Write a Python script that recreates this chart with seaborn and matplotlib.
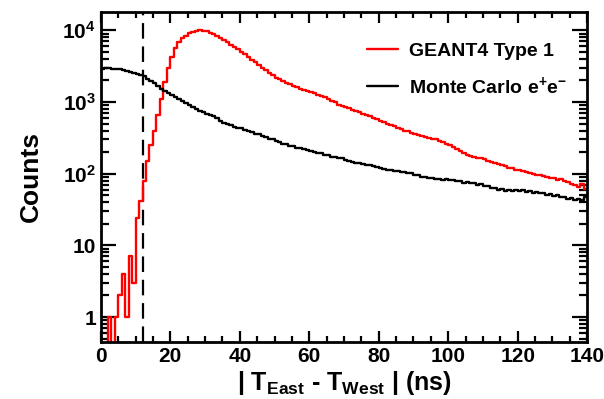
import numpy as np
import pandas as pd
import seaborn as sns
import matplotlib.pyplot as plt
from matplotlib.ticker import MultipleLocator, LogLocator, FixedLocator, FixedFormatter, NullFormatter

### 1 ns bins from 0 to 140 ns
bin_lo = list(range(0, 140))

### GEANT4 Type 1 (red)
geant4 = [
    0, 0, 1, 0, 1, 2, 4, 1, 7, 3,
    24, 41, 78, 150, 255, 400, 660, 1100, 1900, 3000,
    4300, 5600, 6800, 7700, 8450, 9050, 9500, 9800, 10000, 9900,
    9700, 9300, 8850, 8300, 7800, 7350, 6800, 6300, 5900, 5450,
    5050, 4620, 4250, 3900, 3560, 3250, 3010, 2760, 2540, 2360,
    2190, 2060, 1940, 1850, 1760, 1670, 1610, 1540, 1490, 1420,
    1370, 1320, 1270, 1230, 1170, 1110, 1040, 985, 915, 870,
    845, 815, 785, 740, 715, 680, 655, 630, 598, 575,
    550, 528, 500, 482, 462, 440, 424, 398, 388, 368,
    358, 343, 338, 322, 318, 308, 302, 284, 278, 262,
    252, 238, 222, 206, 195, 182, 176, 170, 168, 164,
    160, 150, 147, 139, 137, 132, 129, 121, 119, 114,
    113, 110, 104, 103, 99, 97, 95, 92, 91, 86,
    86, 82, 83, 78, 76, 71, 69, 65, 72, 62,
]

### Monte Carlo e+e- (black)
monte_carlo = [
    2900, 2950, 2930, 2920, 2880, 2860, 2800, 2720, 2650, 2570,
    2480, 2380, 2270, 2120, 1980, 1830, 1680, 1540, 1420, 1320,
    1240, 1170, 1100, 1030, 970, 915, 860, 805, 760, 722,
    688, 655, 628, 595, 548, 515, 492, 472, 452, 440,
    428, 410, 394, 382, 363, 356, 338, 326, 309, 300,
    284, 273, 261, 256, 246, 241, 231, 228, 219, 213,
    204, 201, 194, 193, 184, 181, 173, 171, 166, 165,
    154, 151, 145, 143, 139, 138, 134, 134, 127, 125,
    119, 118, 114, 114, 109, 109, 105, 105, 102, 103,
    97, 95, 91, 90, 86, 87, 84, 85, 82, 83,
    81, 82, 78, 79, 75, 76, 73, 74, 70, 71,
    67, 67, 63, 63, 59, 61, 58, 60, 57, 60,
    58, 59, 56, 57, 54, 56, 53, 54, 51, 52,
    49, 50, 47, 48, 45, 46, 43, 44, 43, 47,
]

cut_ns = 12

sns.set_style('ticks')
plt.rcParams['font.family'] = ['Liberation Sans', 'DejaVu Sans']
plt.rcParams['font.weight'] = 'bold'
plt.rcParams['text.color'] = 'black'
plt.rcParams['axes.labelcolor'] = 'black'
plt.rcParams['axes.edgecolor'] = 'black'
plt.rcParams['xtick.color'] = 'black'
plt.rcParams['ytick.color'] = 'black'
plt.rcParams['mathtext.fontset'] = 'custom'
plt.rcParams['mathtext.rm'] = 'Liberation Sans:bold'
plt.rcParams['mathtext.it'] = 'Liberation Sans:bold'
plt.rcParams['mathtext.bf'] = 'Liberation Sans:bold'
plt.rcParams['mathtext.default'] = 'bf'

fig = plt.figure(figsize=(6.04, 3.99), dpi=100)
ax = fig.add_axes([0.167, 0.143, 0.805, 0.827])

### step histograms: repeat last value so the final bin closes at 140
edges = bin_lo + [140]
df = pd.DataFrame({
    'x': edges + edges,
    'counts': geant4 + [geant4[-1]] + monte_carlo + [monte_carlo[-1]],
    'series': ['GEANT4 Type 1'] * len(edges) + ['Monte Carlo e$^{+}$e$^{-}$'] * len(edges),
})
sns.lineplot(data=df, x='x', y='counts', hue='series', palette=['#ff0000', '#000000'],
             estimator=None, drawstyle='steps-post', linewidth=1.7, ax=ax)

ax.axvline(cut_ns, color='black', linestyle=(0, (7, 3.5)), linewidth=1.6, zorder=1)

ax.set_yscale('log')
ax.set_xlim(0, 140)
ax.set_ylim(0.45, 1.8e4)

ax.xaxis.set_major_locator(MultipleLocator(20))
ax.xaxis.set_minor_locator(MultipleLocator(5))
ax.yaxis.set_major_locator(FixedLocator([1, 10, 100, 1000, 10000]))
ax.yaxis.set_major_formatter(FixedFormatter(['1', '10', '$10^{2}$', '$10^{3}$', '$10^{4}$']))
ax.yaxis.set_minor_locator(LogLocator(base=10, subs=np.arange(2, 10)))
ax.yaxis.set_minor_formatter(NullFormatter())

ax.tick_params(which='both', direction='in', top=True, right=True, width=1.6, labelsize=15)
ax.tick_params(axis='y', which='major', length=11)
ax.tick_params(axis='y', which='minor', length=6)
ax.tick_params(axis='x', which='major', length=8)
ax.tick_params(axis='x', which='minor', length=4.5)
for s in ax.spines.values():
    s.set_linewidth(2)

ax.set_xlabel('| T$_{East}$ - T$_{West}$ | (ns)', fontsize=18, fontweight='bold', labelpad=2)
ax.set_ylabel('Counts', fontsize=19, fontweight='bold', labelpad=14)

ax.legend(loc='upper right', bbox_to_anchor=(0.995, 0.96), frameon=False, fontsize=14,
          handlelength=1.6, handletextpad=0.55, labelspacing=0.75)

fig.savefig('out.png', dpi=100)
